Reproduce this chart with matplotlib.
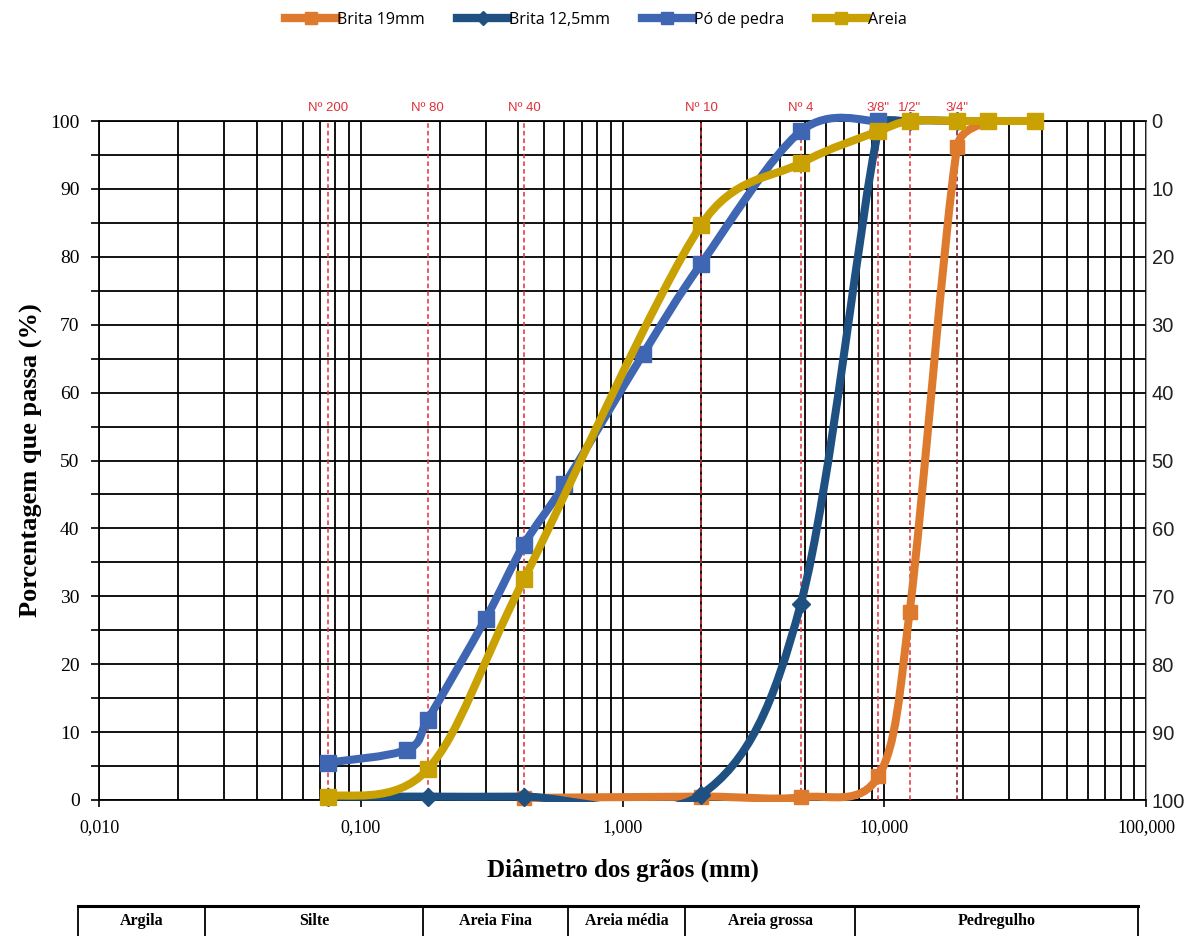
import numpy as np
import matplotlib
matplotlib.use('Agg')
import matplotlib.pyplot as plt
from matplotlib.path import Path
from matplotlib.patches import PathPatch, Rectangle
from matplotlib.lines import Line2D
from matplotlib.ticker import MultipleLocator, LogLocator, NullFormatter

# diametro (mm) x porcentagem que passa (%)
brita19_d = [0.42, 2.0, 4.8, 9.5, 12.5, 19.0, 25.0]
brita19_p = [0.3, 0.5, 0.4, 3.5, 27.7, 96.2, 100.0]

brita125_d = [0.075, 0.18, 0.42, 2.0, 4.8, 9.5, 12.5, 19.0]
brita125_p = [0.5, 0.5, 0.5, 0.8, 28.9, 98.7, 100.0, 100.0]

po_d = [0.075, 0.15, 0.18, 0.3, 0.42, 0.6, 1.2, 2.0, 4.8, 9.5]
po_p = [5.5, 7.4, 11.8, 26.7, 37.6, 46.5, 65.7, 79.0, 98.5, 100.0]

areia_d = [0.075, 0.18, 0.42, 2.0, 4.8, 9.5, 12.5, 19.0, 25.0, 37.5]
areia_p = [0.5, 4.5, 32.5, 84.7, 93.8, 98.5, 100.0, 100.0, 100.0, 100.0]

# peneiras
peneiras = [0.075, 0.18, 0.42, 2.0, 4.8, 9.5, 12.5, 19.0]
peneiras_lbl = ['Nº 200', 'Nº 80', 'Nº 40', 'Nº 10', 'Nº 4', '3/8"', '1/2"', '3/4"']

# classificacao (tabela de baixo)
classes = ['Argila', 'Silte', 'Areia Fina', 'Areia média', 'Areia grossa', 'Pedregulho']
classes_x = [78, 205, 423, 568, 685, 855, 1138]  # limites das colunas em px

x_ticks = [0.01, 0.1, 1, 10, 100]
x_tick_lbl = ['0,010', '0,100', '1,000', '10,000', '100,000']

W, H = 1192, 936
SERIF = 'Liberation Serif'
SANS = 'Liberation Sans'

# escala aproximada em px, so para a suavizacao
PX_DEC = 262.0
PX_PCT = 6.79


def smooth_path(d, p):
    # curva suavizada parecida com a do Excel (bezier, tensao 1/6 limitada)
    x = np.log10(d) * PX_DEC
    y = np.array(p, dtype=float) * PX_PCT
    pts = np.column_stack([x, y])
    n = len(pts)
    verts = [(d[0], p[0])]
    codes = [Path.MOVETO]
    for i in range(n - 1):
        p0 = pts[max(i - 1, 0)]
        p1 = pts[i]
        p2 = pts[i + 1]
        p3 = pts[min(i + 2, n - 1)]
        d12 = np.hypot(*(p2 - p1))
        d02 = np.hypot(*(p2 - p0))
        d13 = np.hypot(*(p3 - p1))
        f = 1 / 6
        g = 1 / 6
        if d02 / 6 >= d12 / 2 and d02 > 0:
            f = d12 / (2 * d02)
        if d13 / 6 >= d12 / 2 and d13 > 0:
            g = d12 / (2 * d13)
        c1 = p1 + f * (p2 - p0)
        c2 = p2 - g * (p3 - p1)
        for c in (c1, c2):
            verts.append((10 ** (c[0] / PX_DEC), c[1] / PX_PCT))
        verts.append((d[i + 1], p[i + 1]))
        codes += [Path.CURVE4] * 3
    return Path(verts, codes)


fig = plt.figure(figsize=(W / 100, H / 100), dpi=100)
ax = fig.add_axes([99 / W, 1 - 800 / H, (1146 - 99) / W, 679 / H])

ax.set_xscale('log')
ax.set_xlim(0.01, 100)
ax.set_ylim(0, 100)

series = [
    ('Brita 19mm', brita19_d, brita19_p, '#DE7A2E', 's', 10.5),
    ('Brita 12,5mm', brita125_d, brita125_p, '#1F5082', 'D', 9),
    ('Pó de pedra', po_d, po_p, '#3E66B3', 's', 11),
    ('Areia', areia_d, areia_p, '#C9A103', 's', 11),
]

# recorte: corta o que passa abaixo de 0, deixa a linha do topo inteira
clip_rect = Rectangle((0, -0.003), 1, 1.1, transform=ax.transAxes,
                      visible=False)
ax.add_artist(clip_rect)

handles = []
for i, (name, d, p, c, m, ms) in enumerate(series):
    patch = PathPatch(smooth_path(d, p), fill=False, edgecolor=c, lw=5.8,
                      capstyle='round', joinstyle='round', zorder=4 + i)
    ax.add_patch(patch)
    patch.set_clip_path(clip_rect)
    ax.plot(d, p, linestyle='none', marker=m, ms=ms, color=c, mec=c,
            zorder=4 + i, clip_on=False)
    handles.append(Line2D([], [], color=c, lw=6, marker=m, ms=ms * 0.8, mec=c))

# linhas das peneiras
for pd_, lb in zip(peneiras, peneiras_lbl):
    col = '#7a1020' if lb == '3/4"' else '#E0303A'
    ax.axvline(pd_, color=col, lw=1.1, ls=(0, (3, 2)), zorder=3)
    ax.text(pd_, 101.0, lb, ha='center', va='bottom', fontsize=9.5,
            color='#E0303A', family=SANS)

# grade
ax.xaxis.set_minor_locator(LogLocator(base=10, subs=np.arange(2, 10)))
ax.xaxis.set_minor_formatter(NullFormatter())
ax.set_xticks(x_ticks)
ax.set_xticklabels(x_tick_lbl, family=SERIF, fontsize=13)
ax.yaxis.set_major_locator(MultipleLocator(10))
ax.yaxis.set_minor_locator(MultipleLocator(5))
for lab in ax.get_yticklabels():
    lab.set_family(SERIF)
    lab.set_fontsize(14)
ax.grid(which='both', color='black', lw=1.3, zorder=1)
ax.set_axisbelow(True)
ax.tick_params(axis='x', which='major', length=5, width=1.2, pad=9)
ax.tick_params(axis='x', which='minor', length=0)
ax.tick_params(axis='y', which='both', length=6, width=1.2, pad=8)
for s in ['left', 'bottom', 'top']:
    ax.spines[s].set_color('black')
    ax.spines[s].set_linewidth(1.3)
ax.spines['right'].set_color('#999999')

ax.set_ylabel('Porcentagem que passa (%)', family=SERIF, fontsize=19,
              weight='bold', labelpad=5)
ax.set_xlabel('Diâmetro dos grãos (mm)', family=SERIF, fontsize=18,
              weight='bold', labelpad=16)

# eixo secundario
ax2 = ax.twinx()
ax2.set_ylim(100, 0)
ax2.yaxis.set_major_locator(MultipleLocator(10))
ax2.tick_params(axis='y', length=0, pad=4, labelsize=14.5, labelcolor='#222222')
for lab in ax2.get_yticklabels():
    lab.set_family(SANS)
for s in ax2.spines.values():
    s.set_visible(False)

# legenda
fig.legend(handles, [s[0] for s in series], loc='upper center',
           bbox_to_anchor=(0.5, 1.003), ncol=4, frameon=False,
           prop={'family': 'Open Sans', 'size': 11.5}, handlelength=3.2,
           handletextpad=0.05, columnspacing=2.0)

# tabela de classificacao
top = 1 - 906 / H
fig.add_artist(Line2D([classes_x[0] / W, classes_x[-1] / W], [top, top],
                      transform=fig.transFigure, color='black', lw=2.2))
for xv in classes_x:
    fig.add_artist(Line2D([xv / W, xv / W], [0, top], transform=fig.transFigure,
                          color='black', lw=1.3))
for j, name in enumerate(classes):
    xc = (classes_x[j] + classes_x[j + 1]) / 2 / W
    fig.text(xc, 1 - 921 / H, name, ha='center', va='center', family=SERIF,
             weight='bold', fontsize=11.5)

fig.savefig('out.png', dpi=100)
